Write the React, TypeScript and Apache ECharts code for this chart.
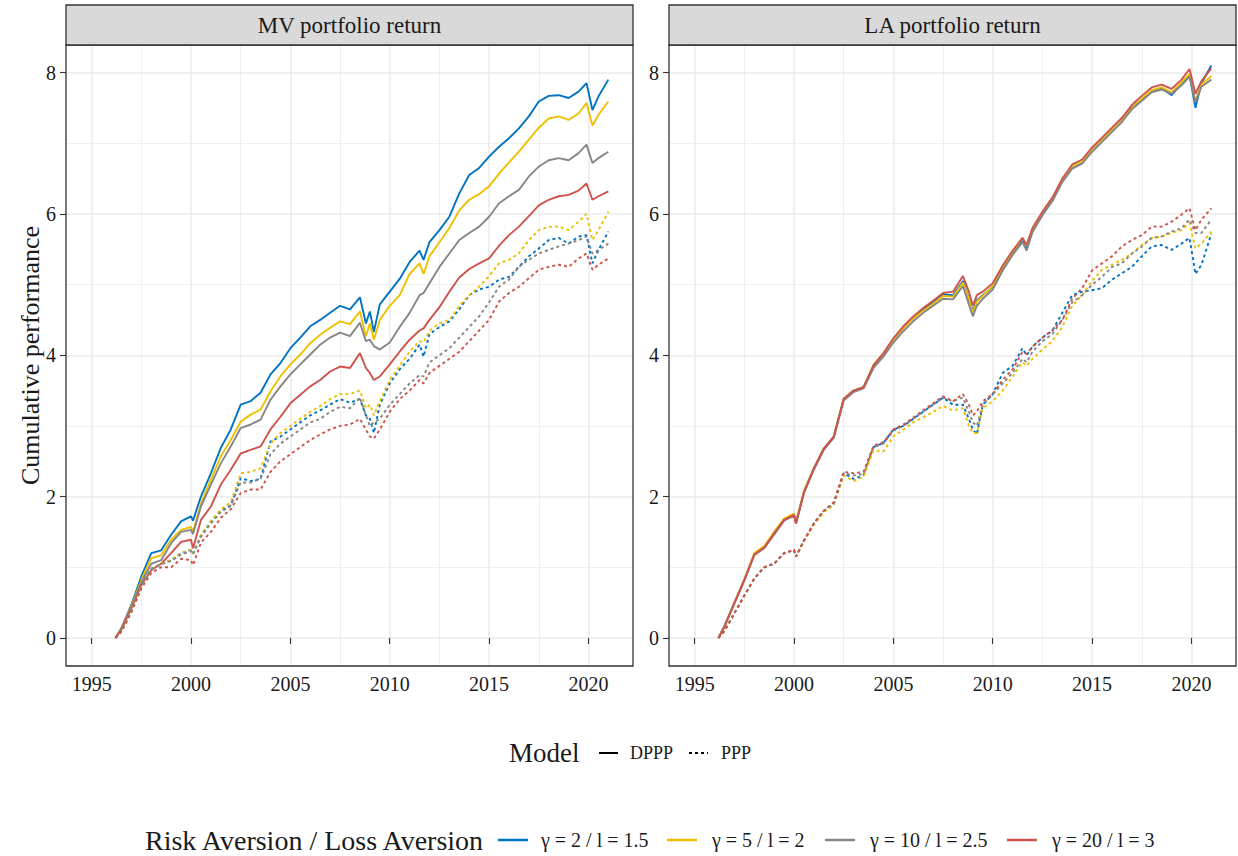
import React, { useEffect, useRef } from "react";
import * as echarts from "echarts";

// ---------- data ----------
const dates = [
  1996.2, 1996.5, 1997.0, 1997.5, 1998.0, 1998.5, 1999.0, 1999.5, 2000.0, 2000.1,
  2000.5, 2001.0, 2001.5, 2002.0, 2002.5, 2003.0, 2003.5, 2004.0, 2004.5, 2005.0,
  2005.5, 2006.0, 2006.5, 2007.0, 2007.5, 2008.0, 2008.5, 2008.8, 2009.0, 2009.2,
  2009.5, 2010.0, 2010.5, 2011.0, 2011.5, 2011.7, 2012.0, 2012.5, 2013.0, 2013.5,
  2014.0, 2014.5, 2015.0, 2015.5, 2016.0, 2016.5, 2017.0, 2017.5, 2018.0, 2018.5,
  2019.0, 2019.5, 2019.9, 2020.2, 2020.5, 2021.0,
];

// MV portfolio return, DPPP
const mvDpppG2 = [0, 0.14, 0.47, 0.87, 1.2, 1.24, 1.46, 1.65, 1.72, 1.66, 2.0, 2.33, 2.69, 2.95, 3.3, 3.35, 3.47, 3.73, 3.89, 4.1, 4.25, 4.41, 4.5, 4.6, 4.7, 4.65, 4.82, 4.45, 4.62, 4.33, 4.72, 4.9, 5.08, 5.32, 5.48, 5.35, 5.6, 5.77, 5.96, 6.29, 6.55, 6.65, 6.81, 6.95, 7.07, 7.21, 7.38, 7.59, 7.67, 7.68, 7.64, 7.73, 7.85, 7.47, 7.66, 7.9];
const mvDpppG5 = [0, 0.13, 0.45, 0.82, 1.13, 1.17, 1.39, 1.53, 1.57, 1.5, 1.9, 2.24, 2.57, 2.8, 3.06, 3.16, 3.23, 3.49, 3.7, 3.87, 4.01, 4.17, 4.29, 4.39, 4.48, 4.44, 4.62, 4.27, 4.45, 4.22, 4.5, 4.7, 4.85, 5.15, 5.3, 5.15, 5.4, 5.6, 5.8, 6.05, 6.2, 6.28, 6.39, 6.57, 6.73, 6.88, 7.05, 7.22, 7.35, 7.38, 7.33, 7.42, 7.57, 7.25, 7.4, 7.59];
const mvDpppG10 = [0, 0.13, 0.44, 0.79, 1.05, 1.1, 1.34, 1.5, 1.53, 1.47, 1.86, 2.17, 2.47, 2.71, 2.97, 3.02, 3.09, 3.37, 3.56, 3.73, 3.87, 4.01, 4.15, 4.25, 4.32, 4.27, 4.46, 4.2, 4.22, 4.13, 4.08, 4.18, 4.4, 4.6, 4.85, 4.88, 5.02, 5.25, 5.44, 5.63, 5.73, 5.82, 5.96, 6.15, 6.25, 6.34, 6.53, 6.67, 6.76, 6.79, 6.76, 6.86, 6.98, 6.72, 6.79, 6.88];
const mvDpppG20 = [0, 0.12, 0.42, 0.75, 0.96, 1.05, 1.2, 1.36, 1.39, 1.27, 1.67, 1.86, 2.17, 2.38, 2.61, 2.66, 2.71, 2.95, 3.13, 3.32, 3.44, 3.56, 3.65, 3.77, 3.84, 3.82, 4.03, 3.82, 3.75, 3.65, 3.7, 3.87, 4.05, 4.22, 4.35, 4.38, 4.5, 4.68, 4.9, 5.1, 5.22, 5.3, 5.37, 5.55, 5.7, 5.82, 5.97, 6.12, 6.2, 6.25, 6.27, 6.33, 6.43, 6.2, 6.25, 6.32];

// MV portfolio return, PPP
const mvPppG2 = [0, 0.1, 0.39, 0.75, 0.98, 1.05, 1.1, 1.2, 1.25, 1.2, 1.45, 1.65, 1.8, 1.87, 2.26, 2.22, 2.25, 2.78, 2.85, 2.95, 3.05, 3.15, 3.22, 3.3, 3.38, 3.33, 3.38, 3.15, 3.1, 2.9, 3.3, 3.6, 3.8, 3.95, 4.15, 3.98, 4.3, 4.4, 4.48, 4.65, 4.85, 4.93, 4.97, 5.07, 5.11, 5.25, 5.4, 5.51, 5.63, 5.66, 5.58, 5.68, 5.7, 5.3, 5.49, 5.75];
const mvPppG5 = [0, 0.1, 0.39, 0.74, 0.97, 1.05, 1.1, 1.2, 1.25, 1.2, 1.45, 1.65, 1.82, 1.92, 2.33, 2.35, 2.4, 2.75, 2.9, 3.0, 3.1, 3.2, 3.28, 3.38, 3.45, 3.45, 3.5, 3.25, 3.3, 3.15, 3.35, 3.65, 3.85, 4.05, 4.2, 4.18, 4.35, 4.45, 4.5, 4.7, 4.85, 4.97, 5.12, 5.3, 5.35, 5.44, 5.63, 5.77, 5.82, 5.82, 5.77, 5.89, 6.0, 5.63, 5.77, 6.03];
const mvPppG10 = [0, 0.1, 0.38, 0.73, 0.96, 1.04, 1.09, 1.18, 1.23, 1.18, 1.43, 1.62, 1.78, 1.88, 2.2, 2.2, 2.25, 2.6, 2.75, 2.85, 2.95, 3.05, 3.1, 3.2, 3.27, 3.25, 3.4, 3.15, 3.0, 3.05, 3.1, 3.3, 3.45, 3.6, 3.72, 3.7, 3.9, 4.0, 4.1, 4.25, 4.4, 4.55, 4.75, 4.97, 5.07, 5.25, 5.35, 5.44, 5.49, 5.54, 5.58, 5.63, 5.68, 5.44, 5.49, 5.58];
const mvPppG20 = [0, 0.09, 0.36, 0.7, 0.92, 1.0, 1.0, 1.12, 1.1, 1.03, 1.35, 1.5, 1.7, 1.82, 2.05, 2.1, 2.1, 2.35, 2.5, 2.6, 2.7, 2.8, 2.88, 2.95, 3.0, 3.02, 3.1, 2.95, 2.85, 2.82, 2.95, 3.2, 3.38, 3.5, 3.65, 3.6, 3.75, 3.85, 3.95, 4.05, 4.2, 4.35, 4.5, 4.76, 4.88, 4.97, 5.09, 5.21, 5.25, 5.28, 5.25, 5.37, 5.44, 5.21, 5.28, 5.37];

// LA portfolio return, DPPP
const laDpppG2 = [0, 0.17, 0.5, 0.82, 1.18, 1.28, 1.48, 1.67, 1.75, 1.63, 2.07, 2.4, 2.68, 2.85, 3.38, 3.5, 3.55, 3.85, 4.02, 4.22, 4.39, 4.53, 4.65, 4.75, 4.86, 4.85, 5.05, 4.8, 4.62, 4.78, 4.85, 4.97, 5.22, 5.44, 5.62, 5.5, 5.77, 6.0, 6.2, 6.47, 6.66, 6.73, 6.9, 7.04, 7.18, 7.32, 7.5, 7.62, 7.74, 7.78, 7.68, 7.84, 7.97, 7.5, 7.85, 8.1];
const laDpppG5 = [0, 0.17, 0.5, 0.83, 1.2, 1.3, 1.5, 1.69, 1.76, 1.64, 2.08, 2.4, 2.68, 2.85, 3.38, 3.5, 3.55, 3.86, 4.02, 4.22, 4.38, 4.52, 4.63, 4.73, 4.84, 4.83, 5.03, 4.8, 4.6, 4.76, 4.84, 4.98, 5.25, 5.46, 5.66, 5.55, 5.78, 6.02, 6.22, 6.48, 6.67, 6.74, 6.9, 7.04, 7.18, 7.32, 7.5, 7.63, 7.75, 7.79, 7.72, 7.86, 7.98, 7.6, 7.83, 7.95];
const laDpppG10 = [0, 0.16, 0.49, 0.81, 1.17, 1.27, 1.46, 1.66, 1.73, 1.62, 2.05, 2.38, 2.66, 2.83, 3.36, 3.48, 3.53, 3.82, 3.98, 4.18, 4.34, 4.48, 4.6, 4.7, 4.8, 4.79, 4.98, 4.72, 4.55, 4.7, 4.8, 4.93, 5.2, 5.42, 5.6, 5.48, 5.74, 5.98, 6.18, 6.45, 6.64, 6.71, 6.88, 7.02, 7.16, 7.3, 7.48, 7.6, 7.72, 7.76, 7.7, 7.82, 7.94, 7.58, 7.8, 7.9];
const laDpppG20 = [0, 0.16, 0.49, 0.82, 1.18, 1.28, 1.48, 1.67, 1.74, 1.62, 2.06, 2.4, 2.68, 2.85, 3.38, 3.5, 3.55, 3.86, 4.03, 4.24, 4.41, 4.55, 4.67, 4.77, 4.88, 4.9, 5.12, 4.9, 4.7, 4.85, 4.9, 5.02, 5.27, 5.48, 5.66, 5.56, 5.8, 6.03, 6.23, 6.5, 6.7, 6.77, 6.94, 7.08, 7.22, 7.36, 7.54, 7.67, 7.79, 7.83, 7.77, 7.9, 8.05, 7.7, 7.88, 8.06];

// LA portfolio return, PPP
const laPppG2 = [0, 0.1, 0.35, 0.6, 0.84, 1.0, 1.05, 1.2, 1.24, 1.15, 1.38, 1.62, 1.8, 1.9, 2.33, 2.25, 2.3, 2.7, 2.76, 2.95, 3.0, 3.1, 3.2, 3.3, 3.4, 3.3, 3.3, 3.1, 2.95, 2.88, 3.3, 3.45, 3.75, 3.85, 4.1, 4.0, 4.12, 4.25, 4.35, 4.6, 4.85, 4.9, 4.92, 4.95, 5.07, 5.16, 5.25, 5.4, 5.54, 5.56, 5.49, 5.58, 5.66, 5.15, 5.28, 5.72];
const laPppG5 = [0, 0.1, 0.35, 0.6, 0.84, 1.0, 1.05, 1.2, 1.24, 1.15, 1.36, 1.6, 1.78, 1.88, 2.3, 2.22, 2.28, 2.65, 2.64, 2.85, 2.95, 3.05, 3.12, 3.2, 3.28, 3.22, 3.25, 3.0, 2.9, 2.9, 3.25, 3.35, 3.5, 3.7, 3.9, 3.85, 3.95, 4.08, 4.2, 4.4, 4.7, 4.85, 5.05, 5.21, 5.28, 5.35, 5.44, 5.56, 5.66, 5.68, 5.73, 5.77, 5.87, 5.51, 5.58, 5.75];
const laPppG10 = [0, 0.1, 0.35, 0.6, 0.84, 1.0, 1.05, 1.2, 1.24, 1.15, 1.38, 1.62, 1.8, 1.9, 2.33, 2.3, 2.32, 2.7, 2.75, 2.93, 3.0, 3.1, 3.2, 3.3, 3.4, 3.35, 3.4, 3.2, 3.05, 3.0, 3.3, 3.45, 3.6, 3.75, 3.95, 3.9, 4.05, 4.2, 4.3, 4.5, 4.75, 4.85, 5.0, 5.11, 5.25, 5.3, 5.44, 5.54, 5.66, 5.68, 5.75, 5.8, 5.92, 5.73, 5.73, 5.92];
const laPppG20 = [0, 0.1, 0.35, 0.6, 0.84, 1.0, 1.05, 1.2, 1.25, 1.15, 1.38, 1.62, 1.8, 1.92, 2.35, 2.33, 2.35, 2.72, 2.77, 2.95, 3.02, 3.12, 3.22, 3.32, 3.42, 3.35, 3.45, 3.3, 3.15, 3.2, 3.35, 3.45, 3.65, 3.8, 4.05, 4.02, 4.12, 4.25, 4.35, 4.5, 4.8, 4.95, 5.2, 5.3, 5.4, 5.54, 5.63, 5.7, 5.82, 5.82, 5.89, 5.99, 6.08, 5.77, 5.92, 6.08];

const panelTitles = ["MV portfolio return", "LA portfolio return"];
const xTicks = [1995, 2000, 2005, 2010, 2015, 2020];
const xMinorTicks = [1997.5, 2002.5, 2007.5, 2012.5, 2017.5];
const yTicks = [0, 2, 4, 6, 8];
const yMinorTicks = [1, 3, 5, 7];
const modelLabels = ["DPPP", "PPP"];
const riskLabels = ["γ = 2 / l = 1.5", "γ = 5 / l = 2", "γ = 10 / l = 2.5", "γ = 20 / l = 3"];
const riskColors = ["#0073C2", "#EFC000", "#868686", "#CD534C"];
const yTitle = "Cumulative performance";
const modelTitle = "Model";
const riskTitle = "Risk Aversion / Loss Aversion";

const seriesTable = [
  { panel: 0, model: 0, risk: 0, values: mvDpppG2 },
  { panel: 0, model: 0, risk: 1, values: mvDpppG5 },
  { panel: 0, model: 0, risk: 2, values: mvDpppG10 },
  { panel: 0, model: 0, risk: 3, values: mvDpppG20 },
  { panel: 0, model: 1, risk: 0, values: mvPppG2 },
  { panel: 0, model: 1, risk: 1, values: mvPppG5 },
  { panel: 0, model: 1, risk: 2, values: mvPppG10 },
  { panel: 0, model: 1, risk: 3, values: mvPppG20 },
  { panel: 1, model: 0, risk: 0, values: laDpppG2 },
  { panel: 1, model: 0, risk: 1, values: laDpppG5 },
  { panel: 1, model: 0, risk: 2, values: laDpppG10 },
  { panel: 1, model: 0, risk: 3, values: laDpppG20 },
  { panel: 1, model: 1, risk: 0, values: laPppG2 },
  { panel: 1, model: 1, risk: 1, values: laPppG5 },
  { panel: 1, model: 1, risk: 2, values: laPppG10 },
  { panel: 1, model: 1, risk: 3, values: laPppG20 },
];

// ---------- layout ----------
const FONT = '"Liberation Serif", "DejaVu Serif", serif';
const TEXT = "#1a1a1a";
const GRIDC = "#EBEBEB";
const PANEL_LEFT = [66, 669];
const PANEL_TOP = 45;
const PANEL_W = 567;
const PANEL_H = 621;
const STRIP_TOP = 5;
const STRIP_H = 40;
const X_MIN = 1993.71;
const X_MAX = 2022.24;
const Y_MIN = -0.397;
const Y_MAX = 8.39;
const DASH = [3, 3];

function buildOption() {
  const grids = PANEL_LEFT.map((left) => ({ left, top: PANEL_TOP, width: PANEL_W, height: PANEL_H, containLabel: false }));
  const xAxes: any[] = [];
  const yAxes: any[] = [];
  PANEL_LEFT.forEach((_, i) => {
    xAxes.push({
      type: "value", gridIndex: i, min: X_MIN, max: X_MAX, position: "bottom",
      axisLine: { show: false },
      axisTick: { show: true, length: 6, customValues: xTicks, lineStyle: { color: "#333", width: 1.1 } },
      axisLabel: {
        customValues: xTicks, fontSize: 20, fontFamily: FONT, color: TEXT, margin: 8,
        formatter: (v: number) => String(Math.round(v)),
      },
      splitLine: { show: true, lineStyle: { color: GRIDC, width: 1.6 } },
    });
    xAxes.push({
      type: "value", gridIndex: i, min: X_MIN, max: X_MAX, position: "top",
      axisLine: { show: false },
      axisTick: { show: false, customValues: xMinorTicks },
      axisLabel: { show: false, customValues: xMinorTicks },
      splitLine: { show: true, lineStyle: { color: GRIDC, width: 0.8 } },
    });
    yAxes.push({
      type: "value", gridIndex: i, min: Y_MIN, max: Y_MAX, position: "left",
      axisLine: { show: false },
      axisTick: { show: true, length: 6, customValues: yTicks, lineStyle: { color: "#333", width: 1.1 } },
      axisLabel: {
        customValues: yTicks, fontSize: 20, fontFamily: FONT, color: TEXT, margin: 10,
        formatter: (v: number) => String(Math.round(v)),
      },
      splitLine: { show: true, lineStyle: { color: GRIDC, width: 1.6 } },
    });
    yAxes.push({
      type: "value", gridIndex: i, min: Y_MIN, max: Y_MAX, position: "right",
      axisLine: { show: false },
      axisTick: { show: false, customValues: yMinorTicks },
      axisLabel: { show: false, customValues: yMinorTicks },
      splitLine: { show: true, lineStyle: { color: GRIDC, width: 0.8 } },
    });
  });

  const series = seriesTable.map((s) => ({
    type: "line",
    name: `${panelTitles[s.panel]} ${modelLabels[s.model]} ${riskLabels[s.risk]}`,
    xAxisIndex: s.panel * 2,
    yAxisIndex: s.panel * 2,
    showSymbol: false,
    symbol: "none",
    smooth: false,
    data: s.values.map((v, k) => [dates[k], v]),
    lineStyle: { color: riskColors[s.risk], width: 1.9, type: s.model === 0 ? "solid" : DASH },
    itemStyle: { color: riskColors[s.risk] },
    z: 3,
  }));

  const graphic: any[] = [];
  PANEL_LEFT.forEach((left, i) => {
    graphic.push({
      type: "rect", z: 100, silent: true,
      shape: { x: left, y: PANEL_TOP, width: PANEL_W, height: PANEL_H },
      style: { fill: "none", stroke: "#333", lineWidth: 1.3 },
    });
    graphic.push({
      type: "rect", z: 100, silent: true,
      shape: { x: left, y: STRIP_TOP, width: PANEL_W, height: STRIP_H },
      style: { fill: "#D9D9D9", stroke: "#333", lineWidth: 1.3 },
    });
    graphic.push({
      type: "text", z: 101, silent: true,
      x: left + PANEL_W / 2, y: STRIP_TOP + STRIP_H / 2,
      style: { text: panelTitles[i], fontSize: 23, fontFamily: FONT, fill: TEXT, align: "center", verticalAlign: "middle" },
    });
  });
  graphic.push({
    type: "text", silent: true, x: 30, y: PANEL_TOP + PANEL_H / 2, rotation: Math.PI / 2,
    style: { text: yTitle, fontSize: 26, fontFamily: FONT, fill: TEXT, align: "center", verticalAlign: "middle" },
  });

  // Model legend
  const modelY = 753;
  graphic.push({
    type: "text", silent: true, x: 509, y: modelY,
    style: { text: modelTitle, fontSize: 27, fontFamily: FONT, fill: TEXT, align: "left", verticalAlign: "middle" },
  });
  const modelKeyX = [599, 689];
  const modelTextX = [630, 721];
  modelLabels.forEach((lab, m) => {
    graphic.push({
      type: "line", silent: true,
      shape: { x1: modelKeyX[m], y1: modelY, x2: modelKeyX[m] + 19, y2: modelY },
      style: { stroke: "#000", lineWidth: 2, lineDash: m === 0 ? null : DASH },
    });
    graphic.push({
      type: "text", silent: true, x: modelTextX[m], y: modelY,
      style: { text: lab, fontSize: 18, fontFamily: FONT, fill: TEXT, align: "left", verticalAlign: "middle" },
    });
  });

  // Risk legend
  const riskY = 840;
  graphic.push({
    type: "text", silent: true, x: 145, y: riskY,
    style: { text: riskTitle, fontSize: 28, fontFamily: FONT, fill: TEXT, align: "left", verticalAlign: "middle" },
  });
  const riskKeyX = [498, 667, 825, 1007];
  const riskTextX = [541, 712, 870, 1052];
  riskLabels.forEach((lab, r) => {
    graphic.push({
      type: "line", silent: true,
      shape: { x1: riskKeyX[r], y1: riskY, x2: riskKeyX[r] + 30, y2: riskY },
      style: { stroke: riskColors[r], lineWidth: 2.5 },
    });
    graphic.push({
      type: "text", silent: true, x: riskTextX[r], y: riskY,
      style: { text: lab, fontSize: 20, fontFamily: FONT, fill: TEXT, align: "left", verticalAlign: "middle" },
    });
  });

  return {
    animation: false,
    backgroundColor: "#ffffff",
    textStyle: { fontFamily: FONT },
    grid: grids,
    xAxis: xAxes,
    yAxis: yAxes,
    series,
    graphic,
  };
}

export default function App() {
  const ref = useRef<HTMLDivElement>(null);
  useEffect(() => {
    if (!ref.current) return;
    const chart = echarts.init(ref.current, null, { renderer: "svg" });
    chart.setOption(buildOption() as any);
    return () => chart.dispose();
  }, []);
  return (
    <div
      ref={ref}
      style={{ position: "fixed", left: 0, top: 0, width: 1238, height: 856, background: "#fff" }}
    />
  );
}
